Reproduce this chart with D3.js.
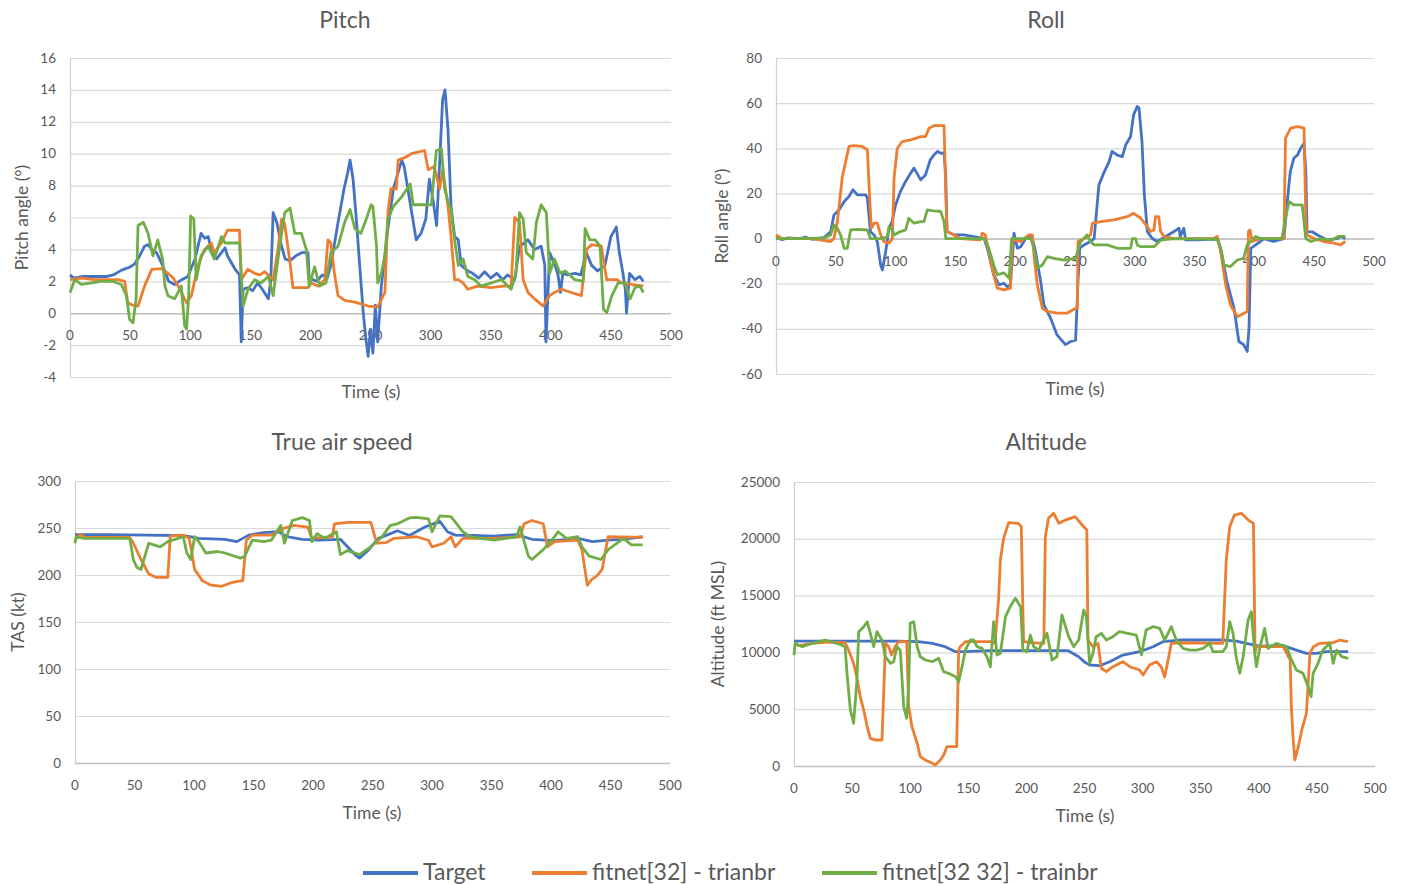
<!doctype html>
<html>
<head>
<meta charset="utf-8">
<title>Flight parameters</title>
<script src="https://d3js.org/d3.v7.min.js"></script>
<style>
  body { margin: 0; background: #fff; }
  text { font-family: Lato, "Open Sans", sans-serif; fill: #595959; }
</style>
</head>
<body>
<script>
// time ticks shared by every panel
var timeTicks = [0, 50, 100, 150, 200, 250, 300, 350, 400, 450, 500];
var seriesNames = ["Target", "fitnet[32] - trianbr", "fitnet[32 32] - trainbr"];
var seriesColors = ["#4472C4", "#ED7D31", "#70AD47"];

var pitchTicks = [-4, -2, 0, 2, 4, 6, 8, 10, 12, 14, 16];
var rollTicks = [-60, -40, -20, 0, 20, 40, 60, 80];
var tasTicks = [0, 50, 100, 150, 200, 250, 300];
var altTicks = [0, 5000, 10000, 15000, 20000, 25000];

// [time (s), value]
var pitchTarget = [[0,2.4],[3,2.2],[10,2.3],[20,2.3],[30,2.3],[36,2.4],[43,2.7],[50,2.9],[54,3.1],[58,3.6],[62,4.2],[65,4.3],[68,4.0],[72,3.8],[77,3.0],[82,2.0],[87,1.8],[93,2.1],[98,2.3],[104,3.4],[109,5.0],[112,4.7],[115,4.8],[118,3.8],[122,3.4],[126,3.8],[129,4.1],[131,3.6],[137,2.8],[141,2.4],[142.5,-1.8],[144,1.5],[148,1.6],[152,1.4],[156,1.9],[160,1.5],[165,0.9],[167,2.0],[169,6.3],[172,5.7],[176,4.2],[179,3.4],[183,3.3],[188,3.6],[193,3.8],[198,3.8],[199,2.2],[205,2.0],[210,2.4],[214,2.2],[217,3.0],[223,5.7],[228,7.8],[231,8.8],[233,9.6],[235.5,8.4],[238,6.1],[241,3.0],[244,0],[246,-1.5],[248,-2.7],[250,-1.0],[252,-2.5],[254,0.5],[256,-1.8],[259,1.7],[264.5,5.3],[269,7.8],[276,9.6],[278,9.2],[283,6.9],[288,4.6],[292,5.0],[296,5.9],[299,8.4],[302,7.1],[305,5.5],[307.5,9.4],[310,13.4],[312,14.0],[314.5,11.5],[317,6.7],[320,4.8],[323,4.6],[325.5,3.0],[331,2.65],[335,2.5],[340,2.2],[345,2.6],[350,2.2],[355,2.5],[360,2.1],[364,2.4],[370,2.1],[374,4.2],[378,4.4],[381,4.6],[386.5,4.0],[392,4.2],[395,3.0],[396,-1.8],[399,3.8],[403.5,3.0],[406,2.4],[408,1.3],[410,2.5],[414,2.4],[420,2.5],[425,2.4],[429.5,3.8],[434,3.0],[439,2.65],[445,3.0],[450,4.8],[454.5,5.4],[457,3.8],[460,2.5],[462,1.5],[463,0],[465.5,2.5],[470,2.1],[474,2.3],[477,2.0]];
var pitchFit32 = [[0,2.1],[10,2.2],[20,2.1],[30,2.1],[40,2.1],[45.5,2.0],[48,0.65],[52,0.5],[56.6,0.45],[62,1.7],[68,2.75],[76,2.8],[81.5,2.5],[86,2.2],[90,1.7],[97,0.65],[101,1.1],[106.5,3.0],[112,4.0],[117.5,4.4],[120,3.8],[126,4.4],[131,5.2],[141,5.2],[142.5,2.1],[148,2.75],[153.6,2.5],[158,2.4],[162,2.6],[169,2.1],[173,4.0],[176,5.9],[178.6,5.6],[183,3.2],[185.5,1.6],[198,1.6],[200.8,1.9],[206,1.7],[212,2.1],[214.6,4.6],[217,4.4],[220,2.5],[223,1.1],[228.5,0.8],[237,0.7],[248,0.45],[256,0.4],[262,1.3],[264.5,6.3],[267,7.8],[271.5,7.8],[273,9.6],[278.5,9.75],[284,10.0],[295,10.2],[298,9.0],[303,9.2],[307.5,7.8],[310,9.0],[314.5,6.7],[317,4.8],[320,2.1],[323,2.1],[327,1.9],[331,1.5],[339,1.7],[350,1.6],[360,1.7],[367,1.7],[370,6.0],[374,5.7],[377,2.1],[381,1.3],[386.5,0.9],[393.5,0.45],[399,1.1],[403,1.3],[409,1.5],[417,1.3],[425.5,1.1],[429.6,4.0],[434,4.3],[442,4.2],[446.5,2.1],[455,2.1],[458.7,1.9],[467,1.8],[477,1.7]];
var pitchFit3232 = [[0,1.3],[4,2.1],[9.4,1.8],[18,1.9],[26,2.0],[35,2.0],[42.7,1.8],[47,1.1],[49.6,-0.4],[52.4,-0.6],[55,0.9],[56.6,5.5],[61,5.7],[65,5.0],[69,3.6],[73,4.6],[77,3.4],[79,1.7],[81.5,1.1],[87,0.9],[92.6,1.7],[95.4,-0.8],[97,-1.0],[98.7,1.1],[100.4,6.1],[103,5.9],[105,2.1],[109,3.6],[115,4.2],[120,3.4],[126,4.8],[129,4.4],[141,4.4],[144,0.45],[148,1.5],[153.6,2.1],[159,1.9],[165,2.3],[169,1.1],[173,3.4],[178.6,6.3],[183,6.6],[187,5.0],[192.5,5.0],[196.6,4.0],[199,1.7],[203.5,2.9],[207.7,1.7],[213,1.9],[217,3.8],[223,4.2],[228.5,5.7],[233,6.5],[237,5.3],[242,5.0],[246.5,5.9],[250.5,6.8],[252,6.7],[255,4.2],[256,1.9],[259,2.5],[262,3.6],[264.5,5.9],[269,6.7],[276,7.3],[283,8.1],[285.5,6.8],[300.6,6.8],[304.8,10.2],[309,10.3],[311.7,7.8],[314.5,7.0],[317,6.5],[320,4.6],[323,3.0],[327,3.4],[331,2.3],[336.6,2.1],[342,1.7],[350.5,1.9],[359,2.1],[367,1.5],[371,2.5],[374,6.3],[377,5.9],[379.6,3.8],[385,3.4],[388,5.7],[392,6.8],[396.3,6.3],[399,2.5],[403,3.4],[407.8,2.5],[412,2.65],[420,2.1],[427,2.0],[428.5,5.3],[432.5,4.6],[437,4.6],[441,4.2],[443.8,0.25],[446.6,0.04],[450.8,1.1],[456,1.9],[461.7,1.9],[466,0.9],[470,1.6],[474,1.7],[477,1.3]];

var rollTarget = [[0,0.5],[5,-0.5],[10,0.3],[20,0],[25,0.6],[30,-0.3],[40,0.4],[45.7,3],[48.5,10.5],[52.7,12.7],[57,16.4],[61,18.6],[64.4,21.6],[68,19.4],[75,19.4],[76.4,17.9],[79,3],[82,1.6],[84.7,-1.3],[87.5,-11.7],[89,-13.9],[91.7,-5.8],[94.5,4.6],[97,7.5],[100,14.9],[104,20.8],[108.4,25.3],[112.6,29],[115.4,31.2],[121,26],[125,28.2],[129,34.9],[132,37],[135,38.6],[137.7,37.8],[140.5,38],[141.9,28],[143,3.1],[149,1.6],[157,1.6],[165.5,0.9],[174,0],[176.7,-4.3],[182,-16],[186.5,-20.5],[190.6,-19.8],[193.4,-21.3],[196,-20.5],[199,2.4],[201.8,-4.3],[204.6,-3.6],[208.7,0],[214,0.9],[217,-5.8],[221.3,-19],[224,-29.4],[229.6,-35.3],[235,-42.7],[242,-47],[246.4,-45.6],[250.5,-45],[252.5,-19],[254,-4.3],[257.5,-2.8],[263,-1.3],[266,0],[270,23.8],[274,29],[278.4,34],[281,38.6],[285.4,37],[289.6,36.3],[292.4,41.5],[296.5,45.2],[299,54.8],[302,58.5],[303.5,57.8],[306,43],[308,19.4],[310.5,3.1],[314.7,0],[318.8,-1.3],[323,0],[332.8,3.1],[337,4.6],[338,0.9],[341,4.6],[342.5,-0.6],[352,-0.6],[369,-0.2],[371.8,-4.3],[377,-19],[383,-30.9],[387,-45.6],[391,-47],[394,-50],[395.5,-39.7],[397,-4.3],[401,-2.8],[405,-1.3],[408,0],[416,-1.3],[424.7,0],[427.5,16.4],[430,29.7],[433,35.6],[436,37],[438.7,40],[441.5,42.2],[443,30],[444,3.1],[448.4,3],[452.6,1.6],[461,-0.6],[469,0],[472,1],[476,0]];
var rollFit32 = [[0,1.6],[5,0],[20,0],[30,0],[45.7,-1.3],[48.5,0],[51.3,7.5],[55.5,27.5],[58.2,34],[61,40.8],[65.2,41.2],[72.2,40.8],[76.4,39.3],[78.6,14.9],[79.7,4.6],[82,6.8],[84.7,6.8],[87.5,1.6],[90.3,-1.3],[94.5,-2],[97.3,0],[98.7,26.7],[101.4,40],[105.6,43],[112.6,43.7],[121,45.2],[125,45.2],[128,48.9],[132,50],[140.5,50],[142,19.4],[143,3.1],[149,1.6],[154,0],[171,-0.6],[172.5,2.4],[175,1.6],[178,-5.8],[182,-16],[185,-22],[190.6,-22.7],[196,-22],[197.6,-0.6],[204.6,-1.3],[211.5,1.6],[214.3,1.6],[215.7,-7.2],[218.5,-20.5],[222.7,-30.9],[226.9,-32.3],[235,-33],[243.6,-33],[250.6,-30.9],[252,-30.9],[252.5,-1.3],[257.5,0],[263,1.6],[264.5,6.8],[271.5,7.5],[282.6,8.3],[293.7,9.7],[299,11.2],[305,9.0],[310.5,5.3],[313,3.1],[316,3.8],[317.4,9.7],[320,9.7],[321.6,3.1],[324.4,0.9],[332.8,0],[366,0],[369,0.9],[371.8,-5.8],[376,-20.5],[380,-29.4],[385.7,-34.6],[394,-32.3],[395,3.1],[396.3,3.8],[398.3,-1.3],[405,0],[424.7,0],[426,44.5],[430.3,48.9],[436,49.6],[441.5,48.9],[443,7.5],[444,1.6],[450,0],[458,-1.3],[466.6,-2],[472,-2.8],[476,-1.3]];
var rollFit3232 = [[0,0],[20,0],[40,0.3],[45.7,1.6],[48.5,6],[51.3,4.5],[54,1.6],[57,-4.3],[59.6,-4.3],[62.4,3.8],[68,4.1],[76.4,3.8],[79,0],[87.5,0],[93,0.7],[94.5,5.3],[97.3,3.8],[98.7,1.6],[104,3.1],[108.4,3.8],[111,9],[115.4,6.8],[121,7.5],[123.7,7.5],[126.5,12.7],[132,12.3],[137.7,12],[140.5,7.5],[142,0],[149,0],[171,0],[174,0],[178,-4.3],[182,-11.7],[185,-16],[190.6,-15.2],[195,-17.6],[197,0],[204.6,0],[213,0],[215.7,-4.3],[218.5,-13.1],[222.7,-11.7],[226.9,-8],[232.4,-8.8],[240.8,-9.5],[250.5,-8.8],[253,-4.3],[254.7,-1.3],[257.5,0],[260,1.6],[263,-1.3],[266,-2.8],[277,-2.8],[285.4,-4.3],[296.5,-4.3],[298,0],[300.7,0],[302,-2.8],[305,-3.6],[316,-3.6],[321.6,-0.7],[332.8,0],[369,-0.3],[371.8,-4.3],[374.6,-11.7],[380,-12.4],[385.7,-9.5],[391,-8.8],[394,-2.8],[397,-1.3],[401,0.9],[405,0],[423,0],[426,9],[429,16.4],[433,14.9],[440,14.9],[443,0],[447,-1.3],[455,0],[464,-0.7],[470.7,1],[476,1]];

var tasTarget = [[0,243],[30,243],[60,242.5],[85,242],[94,241.4],[104,239],[115,238.5],[126,238],[136,235.5],[146,242.4],[158.5,245],[171,246],[178,240.7],[191,238],[205,237],[223,238],[229,230],[235,222],[239,218],[245.4,225],[255,239],[263,243],[271,247],[281,242],[294,251],[306.6,257],[313,246],[319.5,242.4],[335,242],[352,241.4],[371,243],[384,238],[403,236.5],[422.5,239],[435,235.5],[448,237],[460,238],[477,240.7]];
var tasFit32 = [[0,237],[4,243],[9,240],[20,240],[46,240],[49,233.8],[55.5,216.5],[62,201],[68,197.6],[78,197.6],[80,241.4],[91,242.4],[96,239],[100.5,206],[107,194],[113.4,189.6],[123,188],[133,192.4],[141,194],[144,237],[149,242.4],[165,242.4],[174.6,249.3],[184,252.8],[195.5,251],[199,239],[216.4,240.7],[218,254.5],[229,256],[248.6,256],[253.5,233.8],[261.5,234.5],[268,239],[287,240.7],[297,237],[300,230],[310,233.8],[316,240.7],[319.5,230],[326,239],[352,239],[374,240.7],[377.4,254.5],[384,258],[393.5,254.5],[397,230],[403,235.5],[422.5,237],[426,227],[430.5,189],[434,195],[438.6,199],[443,206],[448,240.7],[477,240]];
var tasFit3232 = [[0,233.8],[1,240.7],[7,239],[46,239],[49,216.5],[52,208],[55.5,206],[58.7,220],[62,233.8],[71.6,230],[78,235.5],[91,240.7],[94,223.4],[97.3,216.5],[100.5,240.7],[104,235.5],[110,223.4],[120,225],[126,223.4],[139,218],[142.4,219.6],[149,237],[158.5,235.5],[165,237],[173,252.8],[176,233.8],[182.6,258],[191,261],[197,258],[199,235.5],[203.5,244],[210,239],[219.6,246],[223,221.7],[229,226],[239,221.7],[248.6,230],[258,240.7],[265,252.8],[271,254.5],[281,260.7],[287,261.4],[297,259.6],[300,246],[306.6,263],[316,262],[326,246],[332,240.7],[352,237],[371,240.7],[374,251],[381,220],[384,216.5],[393.5,227],[403,240.7],[406,246],[413,239],[422.5,240.7],[426,230],[432,220],[442,216.5],[448,227],[461,239],[467.5,232],[477,232]];

var altTarget = [[0,11000],[50,11000],[90,11000],[107,10950],[119,10800],[130,10500],[139,10060],[144.6,10060],[170,10150],[199,10150],[236,10150],[245,9620],[250.4,9120],[254.4,8890],[263,8830],[271.7,9180],[283,9770],[297.5,10060],[309,10500],[317.5,10940],[332,11090],[369,11090],[380.7,11000],[389,10800],[400.7,10560],[421,10590],[432.3,10200],[441,9920],[449.5,9920],[458,10060],[477,10060]];
var altFit32 = [[0,10800],[4,10590],[15.5,10800],[30,10900],[44,10850],[47,10200],[51.3,9040],[54,7860],[57,6100],[60,4930],[63,3460],[65.7,2430],[70,2290],[75.7,2290],[78,8740],[78.6,10800],[81.5,10500],[84,9770],[87,10500],[90,10940],[97,10940],[98.7,5220],[101.5,3460],[106,2000],[108.7,820],[113,530],[119,235],[121.6,90],[126,530],[128.8,970],[131.7,1700],[140,1700],[141.7,10200],[143,10500],[147.5,10940],[170.4,10940],[173,10800],[176,14600],[177.6,18130],[180.4,20040],[184.7,21420],[193,21360],[195.6,21070],[196.8,14600],[197.6,10940],[205,10850],[215,10800],[216.3,20190],[219,21800],[223.5,22240],[228,21360],[233.5,21650],[242,21950],[248,21210],[252,20770],[253,11090],[257.3,10500],[261.6,10800],[264.5,8600],[268.8,8300],[274.5,8740],[283,9180],[289,8740],[297.5,8450],[300.4,8010],[306,8890],[312,9180],[316,8740],[319,7860],[322,9330],[324.7,10800],[332,10850],[369,10800],[372,18130],[375,21070],[379,22090],[385,22240],[391,21650],[395.4,21360],[396.8,9920],[398,10500],[409.8,10500],[421,10500],[427,9330],[428,5220],[429.6,2290],[431,530],[434,1700],[437,3170],[441,4640],[444,9920],[447,10500],[452.4,10800],[464,10850],[469.6,11090],[476.7,10940]];
var altFit3232 = [[0,9770],[1,10800],[7,10500],[15.5,10800],[27,11090],[41,10650],[44,10500],[45.6,8160],[48.5,4930],[51.3,3760],[54,7280],[55.7,11820],[60,12260],[63,12700],[65.7,11680],[68.6,10500],[71.4,11820],[75.7,11090],[78.6,9620],[83,9040],[85.8,9180],[88.6,10500],[91.5,10200],[94.4,5220],[97,4200],[98.7,7000],[100,12560],[103,12700],[106,10500],[108.7,9620],[113,9330],[119,9180],[124.5,9480],[128.8,8300],[133,8160],[139,7860],[141.7,7420],[144.6,8740],[147.5,10200],[151.7,11090],[154.6,11090],[157.5,10500],[162,10350],[166,9620],[169,8740],[171.8,12700],[174.7,9770],[177.6,9920],[182,13140],[186,14020],[190.5,14760],[195,14020],[197,10200],[200.5,10060],[203.4,11530],[206.3,10500],[210.5,10200],[217.7,11680],[222,9330],[226.3,9620],[230.6,13290],[236.4,11380],[240.7,10500],[245,11090],[249.3,13730],[251.6,13140],[254.4,9040],[257.3,9920],[260,11380],[264.5,11680],[268.8,11090],[274.5,11380],[280,11820],[294.6,11530],[299,9770],[303,11970],[309,12260],[314.7,12120],[319,11090],[324.7,12260],[329,11090],[334.8,10350],[340.6,10200],[346.4,10200],[352,10350],[357.7,10800],[360.6,10060],[369,10060],[372,10500],[375,12700],[377.8,11680],[380.7,9480],[383.6,8160],[386.5,9620],[390.8,12850],[393.6,13580],[396.5,9920],[398,8740],[400.8,10350],[405,12120],[408,10350],[415,10800],[424,10500],[427,9620],[432.3,8450],[438,8160],[442.5,6980],[445,6100],[446.7,8160],[451,9040],[455,10200],[461,10800],[464,9040],[467,10200],[471.4,9620],[477,9480]];

var panels = [
  {title: "Pitch", yTitle: "Pitch angle (°)", ticks: pitchTicks, series: [pitchTarget, pitchFit32, pitchFit3232],
   left: 70, right: 671, top: 58, bottom: 377, axisAtZero: true, titleX: 345, titleY: 28, yTitleX: 22, timeX: 371, timeY: 398},
  {title: "Roll", yTitle: "Roll angle (°)", ticks: rollTicks, series: [rollTarget, rollFit32, rollFit3232],
   left: 776, right: 1374, top: 58, bottom: 374, axisAtZero: true, titleX: 1046, titleY: 28, yTitleX: 722, timeX: 1075, timeY: 395},
  {title: "True air speed", yTitle: "TAS (kt)", ticks: tasTicks, series: [tasTarget, tasFit32, tasFit3232],
   left: 75, right: 670, top: 481, bottom: 763, axisAtZero: false, titleX: 342, titleY: 450, yTitleX: 18, timeX: 372, timeY: 819},
  {title: "Altitude", yTitle: "Altitude (ft MSL)", ticks: altTicks, series: [altTarget, altFit32, altFit3232],
   left: 794, right: 1375, top: 482, bottom: 766, axisAtZero: false, titleX: 1046, titleY: 450, yTitleX: 718, timeX: 1085, timeY: 822}
];

var svg = d3.select("body").append("svg")
    .attr("width", 1406)
    .attr("height", 884);

panels.forEach(function(p) {
  var x = d3.scaleLinear().domain([0, 500]).range([p.left, p.right]);
  var y = d3.scaleLinear().domain(d3.extent(p.ticks)).range([p.bottom, p.top]);
  var g = svg.append("g");

  // gridlines
  g.selectAll(".grid").data(p.ticks).enter().append("line")
      .attr("x1", p.left).attr("x2", p.right)
      .attr("y1", d => y(d) + 0.5).attr("y2", d => y(d) + 0.5)
      .attr("stroke", "#d9d9d9").attr("stroke-width", 1.2);

  var axisVal = p.axisAtZero ? 0 : p.ticks[0];
  g.append("line")
      .attr("x1", p.left).attr("x2", p.right)
      .attr("y1", y(axisVal) + 0.5).attr("y2", y(axisVal) + 0.5)
      .attr("stroke", "#bfbfbf").attr("stroke-width", 1.5);
  g.append("line")
      .attr("x1", p.left + 0.5).attr("x2", p.left + 0.5)
      .attr("y1", p.top).attr("y2", p.bottom)
      .attr("stroke", "#d0d0d0").attr("stroke-width", 1.2);

  // y tick labels
  g.selectAll(".ylab").data(p.ticks).enter().append("text")
      .attr("x", p.left - 14).attr("y", d => y(d) + 4.5)
      .attr("text-anchor", "end").attr("font-size", 13.5)
      .text(d => d);

  // x tick labels
  g.selectAll(".xlab").data(timeTicks).enter().append("text")
      .attr("x", d => x(d)).attr("y", y(axisVal) + 27)
      .attr("text-anchor", "middle").attr("font-size", 13.5)
      .text(d => d);

  g.append("text")
      .attr("x", p.titleX).attr("y", p.titleY)
      .attr("text-anchor", "middle").attr("font-size", 23)
      .text(p.title);
  g.append("text")
      .attr("x", p.timeX).attr("y", p.timeY)
      .attr("text-anchor", "middle").attr("font-size", 17.5)
      .text("Time (s)");
  g.append("text")
      .attr("transform", "translate(" + (p.yTitleX + 6) + "," + ((p.top + p.bottom) / 2) + ") rotate(-90)")
      .attr("text-anchor", "middle").attr("font-size", 17.5)
      .text(p.yTitle);

  var line = d3.line().x(d => x(d[0])).y(d => y(d[1]));
  g.selectAll(".series").data(p.series).enter().append("path")
      .attr("d", line)
      .attr("fill", "none")
      .attr("stroke", (d, i) => seriesColors[i])
      .attr("stroke-width", 2.8)
      .attr("stroke-linejoin", "round");
});

// legend
var legendX = [363, 532, 822];
var legend = svg.append("g");
seriesNames.forEach(function(name, i) {
  legend.append("line")
      .attr("x1", legendX[i]).attr("x2", legendX[i] + 55)
      .attr("y1", 873).attr("y2", 873)
      .attr("stroke", seriesColors[i]).attr("stroke-width", 4);
  legend.append("text")
      .attr("x", legendX[i] + 60).attr("y", 880)
      .attr("font-size", 23)
      .text(name);
});
</script>
</body>
</html>
